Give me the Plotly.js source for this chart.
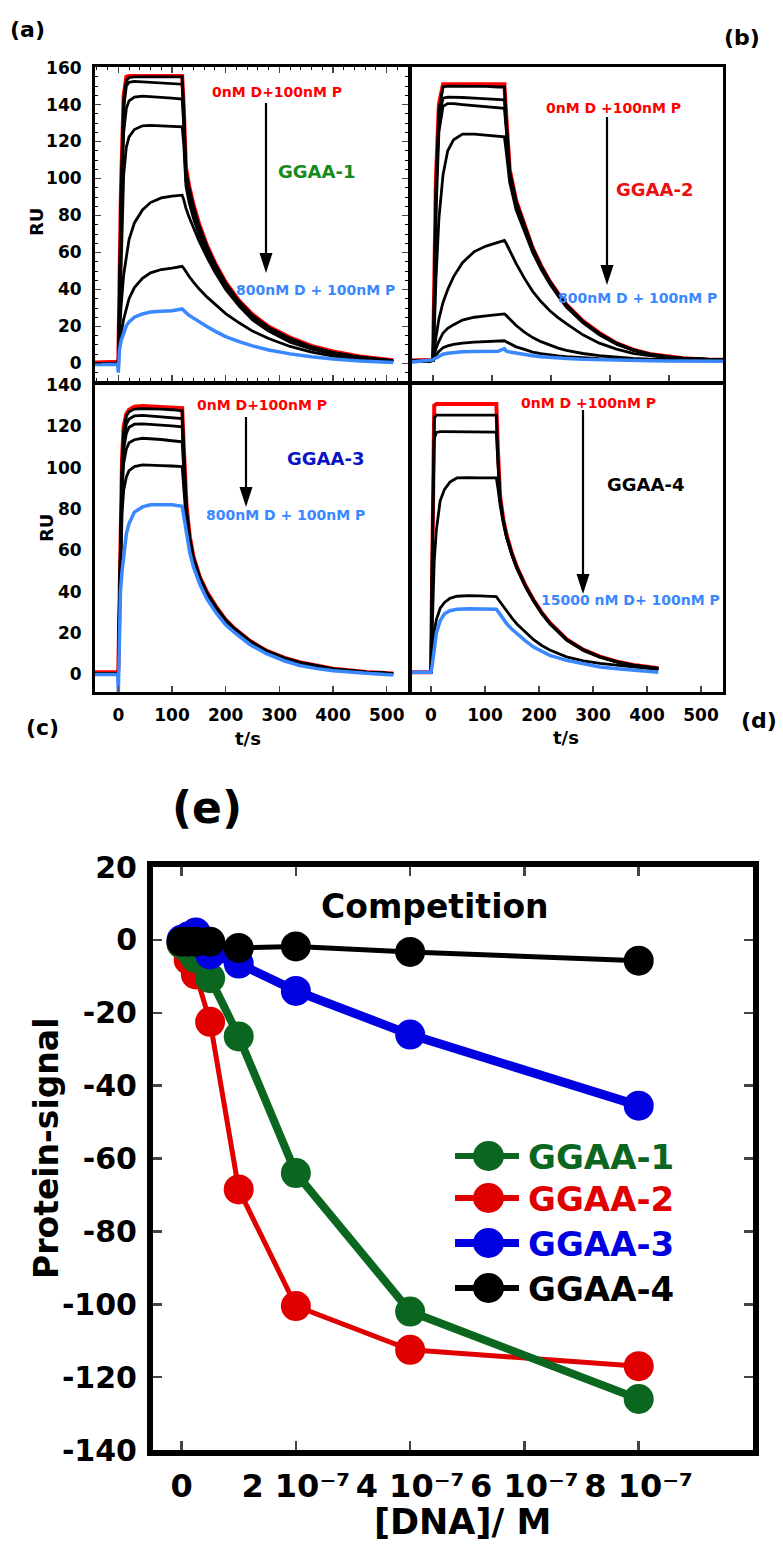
<!DOCTYPE html>
<html><head><meta charset="utf-8">
<script src="https://cdn.plot.ly/plotly-3.0.1.min.js"></script>
<style>html,body{margin:0;padding:0;background:#fff}</style>
</head><body><div id="chart" style="width:783px;height:1545px"></div>
<script>
// ---------- Panel (a): GGAA-1 sensorgrams ----------
const tA   = [-48,-1,0,2,5,10,15,20,30,45,60,80,100,119,122,126,132,140,150,165,180,200,225,250,280,320,360,400,450,512];
const aRed = [0.5,0.5,1,40,95,145,155,155.5,155.5,155.5,155.5,155.5,155.5,155.5,138,106,96,86,76,64,54.5,44,34,26.5,20,14,9.5,6.5,3.8,1.8];
const aK1  = [0,0,0,35,90,143,153,154.5,155,155,155,155,155,155,137,104,95,85,75,63.5,54,43.5,33.5,26,19.5,13.5,9,6,3.5,1.5];
const aK2  = [0,0,0,30,85,138,150,152,152.5,152.3,152,151.8,151.5,151,134,102,93,83.5,74,62.5,53,43,33,25.5,19,13,8.8,5.8,3.3,1.4];
const aK3  = [0,0,0,25,75,125,138,142,144,144.5,144.3,144,143.5,143,128,99,90,81,72,61,52,42,32.5,25,18.5,12.5,8.5,5.5,3.2,1.3];
const aK4  = [0,0,0,18,55,102,117,122.5,126.5,128.5,128.7,128.5,128.2,128,118,96,87,78.5,70,59.5,51,41,32,24.5,18,12.2,8.2,5.3,3,1.2];
const aK5  = [0,0,3,14,30,48,59,67,76,83,87,89.5,90.5,91,88.5,84,79,73,66.5,57.5,49.5,40,31,23.5,17.5,11.5,7.8,5,2.8,1.1];
const aK6  = [0,0,2,9,16,24,30,35,41,46,49,50.8,51.5,52.5,51.5,49.5,47,44,40.5,36,32,27,22,17.5,13.5,9.2,6.2,4,2.3,1];
const aBlue= [-0.5,-0.5,-5,7,12,17,20.5,22.5,25,26.8,27.8,28.2,28.5,29.5,28.5,27.5,26,24.5,22.5,20,17.5,14.5,11.8,9.5,7.3,5.2,3.6,2.4,1.4,0.5];

// ---------- Panel (b): GGAA-2 sensorgrams ----------
const tB   = [-44,-5,0,2,5,10,17,25,35,50,70,90,110,121,124,130,141,155,169,183,198,212,226,254,282,311,339,367,395,424,460,497];
const bRed = [1.5,1.5,2,40,100,140,151,151,151,151,151,151,151,151,135,105,88,75,62.5,53,44.5,38,32,23,16.5,11,7.5,5.2,3.8,2.8,2.2,2];
const bK1  = [1.2,1.2,1.5,36,95,137,149.5,150,150,150,150,149.8,149.5,149.5,133,104,87.5,74.5,62.3,52.8,44.3,37.8,31.8,22.8,16.3,10.9,7.4,5.1,3.7,2.7,2.1,1.9];
const bK2  = [1.2,1.2,1.5,30,90,132,143.5,144,144,143.8,143.5,143.2,142.8,142.5,130,103,87,74,62,52.5,44,37.5,31.5,22.5,16,10.8,7.4,5.1,3.7,2.7,2.1,1.9];
const bK3  = [1.2,1.2,1.5,25,80,125,139,140.5,140.5,140,139.5,139,138.5,138,127,102,86,73,61.5,52,43.5,37,31,22.2,15.8,10.6,7.3,5,3.6,2.7,2.1,1.9];
const bK4  = [1.2,1.2,2,15,45,78,102,115,121,124,124,123.5,123,122.5,115,98,83,71,60,51,43,36.5,30.5,22,15.5,10.4,7.2,5,3.6,2.7,2.1,1.9];
const bK5  = [1.2,1.2,2,8,14,24,33,40,47,54.5,60.5,63.5,65.5,66.5,65,61,54,46,39,33.5,28.5,24.8,21.5,15.5,11,7.8,5.5,4.2,3.2,2.6,2.1,1.9];
const bK6  = [1.2,1.2,2,5,8,12,16.5,19,21,23.5,25,25.8,26.3,26.8,26,24,20.5,17,14,11.8,9.8,8.3,7.1,5.4,4.2,3.3,2.7,2.3,2.1,1.9,1.8,1.7];
const bK7  = [1.2,1.2,1.5,3,4.5,6.5,8.5,9.5,10.3,11,11.5,11.8,12,12.3,11.8,10.8,9,7.6,6.2,5.3,4.6,4.1,3.7,3.1,2.6,2.3,2.1,2,1.9,1.8,1.7,1.6];
const bBlue= [0.5,1.5,2,2.5,3,4,5,5.5,6,6.3,6.5,6.6,6.6,8,6.8,6.2,5.5,4.8,4.2,3.7,3.3,3,2.7,2.3,2,1.8,1.6,1.5,1.4,1.3,1.2,1.2];

// ---------- Panel (c): GGAA-3 sensorgrams ----------
const tC   = [-48,-1,0,2,4,7,10,15,20,30,45,60,80,100,119,122,127,133,140,152,165,183,200,214,245,276,310,338,370,400,462,512];
const cRed = [1,1,2,40,75,105,120,126,128,129.5,129.8,129.5,129.5,129,128.8,110,82,67,57,47,40,32.5,26.5,22.8,16.3,11.5,8,5.9,4.2,2.8,1.2,0.5];
const cK1  = [0.5,0.5,0.5,35,70,102,118,125,127,128.3,128.5,128.5,128.3,128,127.5,108,80,66,56.5,46.8,39.5,32.2,26.3,22.6,16.2,11.4,7.9,5.8,4.1,2.7,1.1,0.4];
const cK2  = [0.5,0.5,0.5,33,66,98,114,121,123.5,125,125.3,125,124.6,124.2,123.7,106,79,65.5,56,46.5,39.3,32,26.2,22.5,16.1,11.3,7.8,5.7,4,2.7,1.1,0.4];
const cK3  = [0.5,0.5,0.5,30,62,94,109,116.5,119.5,121,121.2,121,120.5,120.2,119.7,103,78,65,55.5,46.2,39,31.8,26,22.4,16,11.2,7.8,5.6,4,2.6,1,0.4];
const cK4  = [0.5,0.5,0.5,28,58,88,102,109,112,113.5,114.2,114,113.6,113,112.5,98,76,64,55,45.8,38.7,31.6,25.8,22.2,15.9,11.1,7.7,5.6,3.9,2.6,1,0.4];
const cK5  = [0.5,0.5,0.5,25,52,78,89,95.5,98.5,100.5,101.3,101.3,101,100.8,100.5,90,73,62,53.5,45,38,31,25.5,22,15.7,11,7.6,5.5,3.9,2.6,1,0.4];
const cBlue= [0,0,-9,25,40,50,58,68,73,78.5,81,82,82,82,81.3,76,68,59,52,43.5,36.5,29.5,24,20.8,14.5,10,6.5,4.3,2.8,1.8,0.6,-0.3];

// ---------- Panel (d): GGAA-4 sensorgrams ----------
const tD   = [-44,-1,0,2,4,6,10,17,25,35,48,70,90,110,121,124,128,134,140,150,159,175,190,205,220,251,282,313,345,375,400,421];
const dRed = [1.1,1.1,2,60,110,130,130.8,130.8,130.8,130.8,130.8,130.8,130.8,130.8,130.8,108,86,75,67.5,58.5,52,43,36,30,25,17,12,8.6,6.2,4.6,3.6,3];
const dK1  = [1,1,1,55,105,124,125.4,125.4,125.4,125.4,125.4,125.4,125.4,125.4,125.4,105,85,74.5,67,58.2,51.8,42.8,35.8,29.8,24.8,16.9,11.9,8.5,6.1,4.5,3.5,2.9];
const dK2  = [1,1,1,50,98,114,117,117.4,117.4,117.4,117.4,117.4,117.3,117.2,117.2,102,84,74,66.5,58,51.5,42.6,35.6,29.6,24.6,16.8,11.8,8.4,6,4.4,3.4,2.8];
const dK3  = [1,1,1,20,40,55,70,84,89.5,93,95,95.2,95,95,95,90,82,73,66,57.5,51.2,42.3,35.4,29.4,24.5,16.6,11.6,8.3,5.9,4.3,3.3,2.7];
const dK4  = [1,1,1,10,16,21,26.5,32,34.8,36.8,37.8,38.1,38,37.8,37.6,36.5,35,33,30.8,27.2,24.4,20.3,16.8,14,11.8,8.5,6.6,5.3,4.3,3.6,2.9,2.4];
const dBlue= [1,1,1,4,8,13,20,26,29.3,30.8,31.5,31.7,31.7,31.6,31.5,30.5,29,26.8,24.6,21.8,19.6,16.2,13.2,11,9.2,6.8,5,3.6,2.7,2,1.4,1];

// ---------- Panel (e): competition ----------
const conc  = [0, 1.25e-8, 2.5e-8, 5e-8, 1e-7, 2e-7, 4e-7, 8e-7];
const ggaa1 = [-1, -2.5, -5, -10.5, -26.5, -64, -102, -126];
const ggaa2 = [-1, -5.5, -9.5, -22.5, -68.5, -100.5, -112.5, -117];
const ggaa3 = [0, 1, 2, -4, -6.5, -14, -26, -45.5];
const ggaa4 = [-0.5, -0.5, -0.5, -0.5, -2.2, -1.8, -3.3, -5.7];
const seriesNames = ['GGAA-1','GGAA-2','GGAA-3','GGAA-4'];
const xTickVals = [0, 2e-7, 4e-7, 6e-7, 8e-7];
const xTickText = ['0', '2 10\u207B\u2077', '4 10\u207B\u2077', '6 10\u207B\u2077', '8 10\u207B\u2077'];
const yTickVals = [20, 0, -20, -40, -60, -80, -100, -120, -140];
const yTickText = ['20', '0', '-20', '-40', '-60', '-80', '-100', '-120', '-140'];

// ---------- styling ----------
const W = 783, H = 1545;
const px = x => x / W, py = y => 1 - y / H;
const F = 'DejaVu Sans';
const fnt = (s, c) => ({family: F, size: s, color: c || '#000', weight: 'bold'});
const RED = '#ff0000', BLK = '#000000', SKY = '#3a88ff';
const eColors = ['#0b661f', '#e00000', '#0000e0', '#000000'];
const eWidths = [8, 5, 9, 5];

function ln(x, y, xa, ya, color, w) {
  return {type: 'scatter', mode: 'lines', x: x, y: y, xaxis: xa, yaxis: ya,
          line: {color: color, width: w}, showlegend: false, hoverinfo: 'skip'};
}
const traces = [];
function panel(t, red, blacks, blue, xa, ya) {
  traces.push(ln(t, red, xa, ya, RED, 4));
  blacks.forEach(k => traces.push(ln(t, k, xa, ya, BLK, 2.8)));
  traces.push(ln(t, blue, xa, ya, SKY, 3.5));
}
panel(tA, aRed, [aK1, aK2, aK3, aK4, aK5, aK6], aBlue, 'x', 'y');
panel(tB, bRed, [bK1, bK2, bK3, bK4, bK5, bK6, bK7], bBlue, 'x2', 'y2');
panel(tC, cRed, [cK1, cK2, cK3, cK4, cK5], cBlue, 'x3', 'y3');
panel(tD, dRed, [dK1, dK2, dK3, dK4], dBlue, 'x4', 'y4');

const eSeries = [ggaa1, ggaa2, ggaa3, ggaa4];
[1, 0, 2, 3].forEach(i => {
  traces.push({type: 'scatter', mode: 'lines+markers', x: conc, y: eSeries[i], name: seriesNames[i],
    xaxis: 'x5', yaxis: 'y5', line: {color: eColors[i], width: eWidths[i]},
    marker: {color: eColors[i], size: 30}, showlegend: false, hoverinfo: 'skip', cliponaxis: false});
});

function ax(o) {
  return Object.assign({showgrid: false, zeroline: false, showline: true, linecolor: '#000',
    linewidth: 3, mirror: true, ticks: '', tickfont: fnt(17), fixedrange: true}, o);
}
const minorX = {ticks: 'inside', ticklen: 3, tickwidth: 1, dtick: 20, tick0: 0, tickcolor: '#000'};
const minorY = {ticks: 'inside', ticklen: 3, tickwidth: 1, dtick: 5, tick0: 0, tickcolor: '#000'};

const layout = {
  width: W, height: H, margin: {l: 0, r: 0, t: 0, b: 0},
  paper_bgcolor: '#fff', plot_bgcolor: 'rgba(0,0,0,0)', showlegend: false,
  xaxis:  ax({domain: [px(95), px(407.5)], range: [-43.4, 538.7], anchor: 'y', showticklabels: false,
              ticks: 'inside', tick0: 0, dtick: 100, ticklen: 6, tickwidth: 1.5, minor: minorX, mirror: 'allticks'}),
  yaxis:  ax({domain: [py(380.5), py(67)], range: [-9.2, 160.3], anchor: 'x', ticklabelstandoff: 7,
              ticks: 'inside', tick0: 0, dtick: 20, ticklen: 6, tickwidth: 1.5, minor: minorY, mirror: 'allticks'}),
  xaxis2: ax({domain: [px(411.5), px(723)], range: [-36.4, 491.5], anchor: 'y2', showticklabels: false,
              ticks: 'inside', tick0: 0, dtick: 100, ticklen: 6, tickwidth: 1.5}),
  yaxis2: ax({domain: [py(380.5), py(67)], range: [-9.2, 160.3], anchor: 'x2', showticklabels: false}),
  xaxis3: ax({domain: [px(95), px(407.5)], range: [-43.4, 538.7], anchor: 'y3', ticklabelstandoff: 6,
              ticks: 'inside', tick0: 0, dtick: 100, ticklen: 6, tickwidth: 1.5}),
  yaxis3: ax({domain: [py(692), py(384.5)], range: [-8.5, 140.2], anchor: 'x3', tick0: 0, dtick: 20, ticklabelstandoff: 7}),
  xaxis4: ax({domain: [px(411.5), px(723)], range: [-36.1, 540.7], anchor: 'y4', ticklabelstandoff: 6,
              ticks: 'inside', tick0: 0, dtick: 100, ticklen: 6, tickwidth: 1.5}),
  yaxis4: ax({domain: [py(692), py(384.5)], range: [-8.5, 140.2], anchor: 'x4', showticklabels: false}),
  xaxis5: ax({domain: [px(153), px(753)], range: [-5e-8, 1e-6], anchor: 'y5', linewidth: 6,
              tickmode: 'array', tickvals: xTickVals, ticktext: xTickText, ticklabelstandoff: 3,
              ticks: 'inside', ticklen: 9, tickwidth: 2.5, mirror: 'allticks', tickfont: fnt(32)}),
  yaxis5: ax({domain: [py(1450), py(867)], range: [-140, 20], anchor: 'x5', linewidth: 6,
              tickmode: 'array', tickvals: yTickVals, ticktext: yTickText, ticklabelstandoff: 4,
              ticks: 'inside', ticklen: 9, tickwidth: 2.5, mirror: 'allticks', tickfont: fnt(30)}),
  annotations: [],
  shapes: []
};

function T(text, x, y, size, color, extra) {
  layout.annotations.push(Object.assign({text: text, x: px(x), y: py(y), xref: 'paper', yref: 'paper',
    showarrow: false, xanchor: 'center', yanchor: 'middle', font: fnt(size, color)}, extra || {}));
}
function ARROW(x, yTip, yTail) {
  const headH = 20, headW = 6.5;
  layout.shapes.push({type: 'line', xref: 'paper', yref: 'paper', x0: px(x), x1: px(x),
    y0: py(yTail), y1: py(yTip - headH + 2), line: {color: '#000', width: 2.2}});
  layout.shapes.push({type: 'path', xref: 'paper', yref: 'paper',
    path: 'M ' + px(x - headW) + ' ' + py(yTip - headH) + ' L ' + px(x + headW) + ' ' + py(yTip - headH) +
          ' L ' + px(x) + ' ' + py(yTip) + ' Z',
    fillcolor: '#000', line: {color: '#000', width: 0}});
}

// panel letters
T('(a)', 27, 30, 22); T('(b)', 742, 37, 22); T('(c)', 42, 727, 22); T('(d)', 759, 720, 22);
// axis titles of sensorgrams
T('RU', 37, 222, 18, '#000', {textangle: -90});
T('RU', 47, 528, 18, '#000', {textangle: -90});
T('t/s', 248, 738, 18); T('t/s', 566, 737, 18);
// panel (a)
T('0nM D+100nM P', 277, 92, 14, RED); ARROW(266, 273, 103);
T('GGAA-1', 316, 171, 18, '#178a1e'); T('800nM D + 100nM P', 315, 290, 14, SKY);
// panel (b)
T('0nM D +100nM P', 613, 108, 14, RED); ARROW(607, 285, 117);
T('GGAA-2', 654, 190, 18, '#e81010'); T('800nM D + 100nM P', 637, 298, 14, SKY);
// panel (c)
T('0nM D+100nM P', 262, 405, 14, RED); ARROW(246, 507, 417);
T('GGAA-3', 325, 458, 18, '#0a14c0'); T('800nM D + 100nM P', 285, 515, 14, SKY);
// panel (d)
T('0nM D +100nM P', 588, 403, 14, RED); ARROW(583, 594, 410);
T('GGAA-4', 645, 485, 18, '#000'); T('15000 nM D+ 100nM P', 630, 600, 14, SKY);
// panel (e)
T('(e)', 207, 807, 44);
T('Competition', 435, 906, 33);
T('Protein-signal', 46, 1149, 33, '#000', {textangle: -90});
T('[DNA]/ M', 462, 1522, 35);

// manual legend for (e)
const legY = [1156, 1198, 1243, 1288];
const legLW = [6, 6, 8, 6];
seriesNames.forEach((nm, i) => {
  const yc = legY[i];
  layout.shapes.push({type: 'line', xref: 'paper', yref: 'paper', x0: px(455), x1: px(519), y0: py(yc), y1: py(yc),
    line: {color: eColors[i], width: legLW[i]}});
  layout.shapes.push({type: 'circle', xref: 'paper', yref: 'paper', x0: px(473), x1: px(504), y0: py(yc + 15), y1: py(yc - 15),
    fillcolor: eColors[i], line: {color: eColors[i], width: 0}});
  T(nm, 526, yc + 1, 34, eColors[i], {xanchor: 'left'});
});

Plotly.newPlot('chart', traces, layout, {displayModeBar: false, staticPlot: true});
</script></body></html>
